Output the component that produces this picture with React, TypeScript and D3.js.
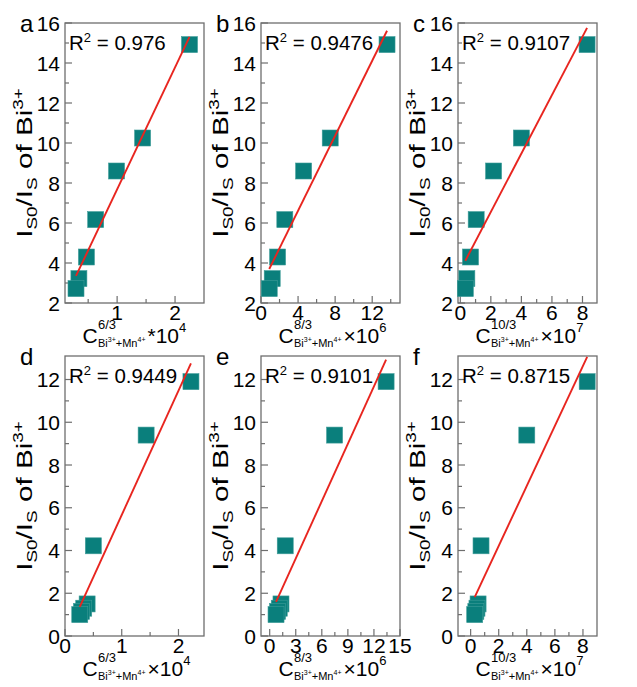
import React from 'react';
import * as d3 from 'd3';

// ---- data ----
const yRowTop = [14.92, 10.25, 8.6, 6.17, 4.3, 3.22, 2.72];
const yRowBottom = [11.9, 9.4, 4.22, 1.5, 1.3, 1.15, 1.0];
const xA = [2.25, 1.44, 0.99, 0.63, 0.47, 0.34, 0.29];
const xB = [13.6, 7.47, 4.6, 2.57, 1.79, 1.21, 0.89];
const xC = [8.3, 4.0, 2.18, 1.04, 0.67, 0.43, 0.33];
const xD = [2.22, 1.43, 0.5, 0.39, 0.33, 0.29, 0.26];
const xE = [13.4, 7.47, 1.79, 1.3, 1.1, 0.9, 0.73];
const xF = [8.3, 4.0, 0.74, 0.53, 0.45, 0.37, 0.29];

const panelLetters = ['a', 'b', 'c', 'd', 'e', 'f'];
const r2Values = ['0.976', '0.9476', '0.9107', '0.9449', '0.9101', '0.8715'];
const xDomains = [[0.1, 2.5], [0, 15], [-0.15, 8.95], [0, 2.45], [-1, 15], [-0.9, 9]];
const xMajorTicks = [[1, 2], [0, 4, 8, 12], [0, 2, 4, 6, 8], [0, 1, 2], [0, 3, 6, 9, 12, 15], [0, 2, 4, 6, 8]];
const xMinorTicks = [[0.5, 1.5], [2, 6, 10, 14], [1, 3, 5, 7], [0.5, 1.5], [1.5, 4.5, 7.5, 10.5, 13.5], [1, 3, 5, 7]];
const yDomains = [[2, 16], [0, 13.1]];
const yMajorTicks = [[2, 4, 6, 8, 10, 12, 14, 16], [0, 2, 4, 6, 8, 10, 12]];
const yMinorTicks = [[3, 5, 7, 9, 11, 13, 15], [1, 3, 5, 7, 9, 11]];
const xLabelPowers = ['6/3', '8/3', '10/3', '6/3', '8/3', '10/3'];
const xLabelExps = ['4', '6', '7', '4', '6', '7'];
const xLabelSyms = ['*', '×', '×', '×', '×', '×'];

const xSeries = [xA, xB, xC, xD, xE, xF];
const ySeries = [yRowTop, yRowTop, yRowTop, yRowBottom, yRowBottom, yRowBottom];

// ---- layout ----
const W = 637;
const H = 687;
const colLeft = [65, 261, 458];
const rowTop = [23, 356];
const plotW = 139;
const plotH = 280;
const FONT = "'Liberation Sans', Arial, Helvetica, sans-serif";
const AXIS = '#6e6e6e';
const TEAL = '#0a7f7c';
const RED = '#e8251f';

function linfit(xs: number[], ys: number[]) {
  const mx = d3.mean(xs) as number;
  const my = d3.mean(ys) as number;
  let sxy = 0, sxx = 0;
  xs.forEach((x, i) => { sxy += (x - mx) * (ys[i] - my); sxx += (x - mx) * (x - mx); });
  const slope = sxy / sxx;
  return { slope, intercept: my - slope * mx };
}

function XLabel({ cx, y, power, sym, exp }: { cx: number; y: number; power: string; sym: string; exp: string }) {
  const s = cx - 52;
  return (
    <g fontFamily={FONT} fill="#000">
      <text x={s} y={y} fontSize={21}>C</text>
      <text x={s + 15.5} y={y - 14} fontSize={13}>{power}</text>
      <text x={s + 15.5} y={y + 4} fontSize={11}>
        <tspan>Bi</tspan>
        <tspan fontSize={7} dy={-5}>3+</tspan>
        <tspan dy={5}>+Mn</tspan>
        <tspan fontSize={7} dy={-5}>4+</tspan>
      </text>
      <text x={s + 65} y={y} fontSize={21}>
        <tspan>{sym}10</tspan>
        <tspan fontSize={13} dy={-11}>{exp}</tspan>
      </text>
    </g>
  );
}

function YLabel({ x, cy }: { x: number; cy: number }) {
  return (
    <text transform={`translate(${x},${cy}) rotate(-90) scale(1.35,1)`} textAnchor="middle" fontFamily={FONT} fontSize={22} fill="#000">
      <tspan>I</tspan>
      <tspan fontSize={14} dy={5}>S0</tspan>
      <tspan dy={-5}>/I</tspan>
      <tspan fontSize={14} dy={5}>S</tspan>
      <tspan dy={-5}> of Bi</tspan>
      <tspan fontSize={14} dy={-9}>3+</tspan>
    </text>
  );
}

function Panel({ i }: { i: number }) {
  const row = i < 3 ? 0 : 1;
  const col = i % 3;
  const left = colLeft[col];
  const top = rowTop[row];
  const right = left + plotW;
  const bottom = top + plotH;
  const xs = xSeries[i];
  const ys = ySeries[i];
  const x = d3.scaleLinear().domain(xDomains[i]).range([left, right]);
  const y = d3.scaleLinear().domain(yDomains[row]).range([bottom, top]);
  const fit = linfit(xs, ys);
  const [x0, x1] = d3.extent(xs) as [number, number];
  const line = d3.line<number>().x((d) => x(d)).y((d) => y(fit.slope * d + fit.intercept));
  const sq = 16;
  return (
    <g>
      <rect x={left} y={top} width={plotW} height={plotH} fill="none" stroke={AXIS} strokeWidth={1.3} />
      {yMajorTicks[row].map((t) => (
        <g key={'ym' + t}>
          <line x1={left} x2={left + 7} y1={y(t)} y2={y(t)} stroke={AXIS} strokeWidth={1.2} />
          <text x={left - 5} y={y(t)} dy="0.36em" textAnchor="end" fontFamily={FONT} fontSize={21}>{t}</text>
        </g>
      ))}
      {yMinorTicks[row].map((t) => (
        <line key={'yn' + t} x1={left} x2={left + 4} y1={y(t)} y2={y(t)} stroke={AXIS} strokeWidth={1.2} />
      ))}
      {xMajorTicks[i].map((t) => (
        <g key={'xm' + t}>
          <line x1={x(t)} x2={x(t)} y1={bottom} y2={bottom - 7} stroke={AXIS} strokeWidth={1.2} />
          <text x={x(t)} y={bottom + 17} textAnchor="middle" fontFamily={FONT} fontSize={21}>{t}</text>
        </g>
      ))}
      {xMinorTicks[i].map((t) => (
        <line key={'xn' + t} x1={x(t)} x2={x(t)} y1={bottom} y2={bottom - 4} stroke={AXIS} strokeWidth={1.2} />
      ))}
      {xs.map((d, k) => (
        <rect key={'p' + k} x={x(d) - sq / 2} y={y(ys[k]) - sq / 2} width={sq} height={sq} fill={TEAL} stroke="#3e9c98" strokeWidth={0.6} />
      ))}
      <path d={line([x0, x1]) as string} fill="none" stroke={RED} strokeWidth={1.9} />
      <text x={left + 4} y={top + 27} fontFamily={FONT} fontSize={20.5}>
        <tspan>R</tspan>
        <tspan fontSize={13} dy={-8}>2</tspan>
        <tspan dy={8}>{' = ' + r2Values[i]}</tspan>
      </text>
      <text x={left - 45} y={top + 9} fontFamily={FONT} fontSize={24}>{panelLetters[i]}</text>
      <YLabel x={left - 33} cy={(top + bottom) / 2} />
      <XLabel cx={(left + right) / 2} y={bottom + 40} power={xLabelPowers[i]} sym={xLabelSyms[i]} exp={xLabelExps[i]} />
    </g>
  );
}

export default function App() {
  return (
    <svg width={W} height={H} viewBox={`0 0 ${W} ${H}`} style={{ position: 'absolute', left: 0, top: 0, background: '#fff' }}>
      <rect x={0} y={0} width={W} height={H} fill="#fff" />
      {[0, 1, 2, 3, 4, 5].map((i) => <Panel key={i} i={i} />)}
    </svg>
  );
}
